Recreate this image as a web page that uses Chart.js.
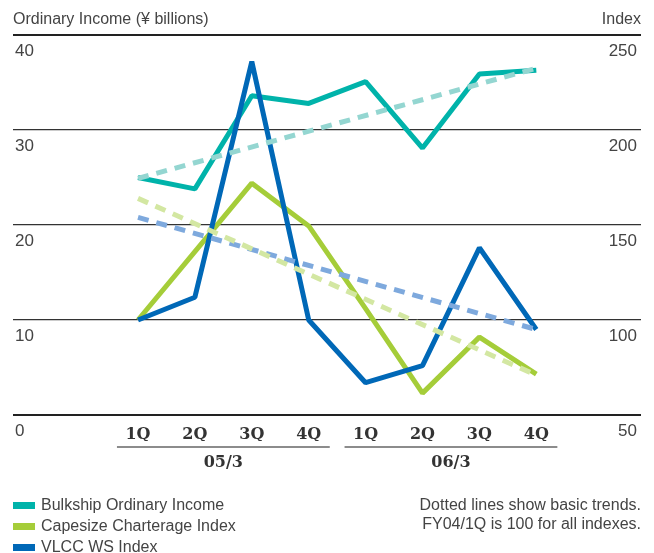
<!DOCTYPE html>
<html>
<head>
<meta charset="utf-8">
<script src="https://cdn.jsdelivr.net/npm/chart.js@4/dist/chart.umd.min.js"></script>
<style>
  html, body { margin: 0; padding: 0; background: #fff; }
  #wrap { position: relative; width: 654px; height: 553px; overflow: hidden;
    font-family: "Liberation Sans", Arial, sans-serif; color: #444; }
  #chart { position: absolute; left: 0; top: 0; }
  .axis-title { position: absolute; top: 8px; font-size: 16px; line-height: 22px; }
  .legend { position: absolute; left: 13px; top: 494px; font-size: 16px; }
  .legend div { height: 21px; line-height: 21px; white-space: nowrap; }
  .legend span { display: inline-block; width: 22px; height: 7px; margin-right: 6px; vertical-align: 1px; }
  .note { position: absolute; right: 13px; top: 495px; font-size: 16px; line-height: 19px; text-align: right; }
</style>
</head>
<body>
<div id="wrap">
  <canvas id="chart" width="654" height="553"></canvas>
  <div class="axis-title" style="left:13px">Ordinary Income (¥ billions)</div>
  <div class="axis-title" style="right:13px">Index</div>
  <div class="legend">
    <div><span style="background:#00b3aa"></span>Bulkship Ordinary Income</div>
    <div><span style="background:#a5cd39"></span>Capesize Charterage Index</div>
    <div><span style="background:#0068b7"></span>VLCC WS Index</div>
  </div>
  <div class="note">Dotted lines show basic trends.<br>FY04/1Q is 100 for all indexes.</div>
</div>
<script>
const quarterLabels = ['1Q', '2Q', '3Q', '4Q', '1Q', '2Q', '3Q', '4Q'];
const fiscalYears = ['05/3', '06/3'];

// ordinary income, ¥ billions (left axis)
const bulkshipIncome = [25, 23.8, 33.6, 32.8, 35.1, 28.1, 35.9, 36.3];
// indexes, FY04/1Q = 100 (right axis)
const capesizeIndex = [100, 136, 172, 149.5, 106, 61.5, 91, 71.5];
const vlccIndex = [100, 112, 236, 100, 67, 76, 138, 95];

// basic trend lines: value at first and last quarter
const bulkshipTrend = [24.9, 36.5];
const capesizeTrend = [164, 71];
const vlccTrend = [154, 95];

const toPoints = arr => arr.map((v, i) => ({ x: i, y: v }));
const trendPoints = arr => [{ x: 0, y: arr[0] }, { x: quarterLabels.length - 1, y: arr[1] }];

const solid = (label, data, color, axis, order) => ({
  label, data, borderColor: color, backgroundColor: color, yAxisID: axis, order,
  borderWidth: 5, pointRadius: 0, tension: 0, borderJoinStyle: 'bevel', borderCapStyle: 'butt',
});
const dashed = (label, data, color, axis) => ({
  label, data, borderColor: color, yAxisID: axis, order: 0,
  borderWidth: 5, borderDash: [11, 8], pointRadius: 0, borderCapStyle: 'butt',
});

// labels sit inside the plot, so the value axes take no room
const zeroWidth = scale => { scale.width = 0; };

// bracket lines and year labels under the quarters
const yearGroups = {
  id: 'yearGroups',
  afterDraw(chart) {
    const { ctx, chartArea, scales } = chart;
    const x = scales.x;
    ctx.save();
    fiscalYears.forEach((label, g) => {
      const first = g * 4, last = g * 4 + 3;
      const left = x.getPixelForValue(first - 0.37);
      const right = x.getPixelForValue(last + 0.37);
      const y = chartArea.bottom + 32;
      ctx.strokeStyle = '#666';
      ctx.lineWidth = 1.5;
      ctx.beginPath();
      ctx.moveTo(left, y);
      ctx.lineTo(right, y);
      ctx.stroke();
      ctx.fillStyle = '#333';
      ctx.font = 'bold 16px "DejaVu Serif", serif';
      ctx.textAlign = 'center';
      ctx.textBaseline = 'middle';
      ctx.fillText(label, (left + right) / 2, chartArea.bottom + 48);
    });
    ctx.restore();
  }
};

new Chart(document.getElementById('chart'), {
  type: 'line',
  data: {
    datasets: [
      dashed('Bulkship trend', trendPoints(bulkshipTrend), '#94d6d1', 'y'),
      dashed('Capesize trend', trendPoints(capesizeTrend), '#d3e7a2', 'y2'),
      dashed('VLCC trend', trendPoints(vlccTrend), '#7ea9dd', 'y2'),
      solid('VLCC WS Index', toPoints(vlccIndex), '#0068b7', 'y2', 1),
      solid('Capesize Charterage Index', toPoints(capesizeIndex), '#a5cd39', 'y2', 2),
      solid('Bulkship Ordinary Income', toPoints(bulkshipIncome), '#00b3aa', 'y', 3),
    ],
  },
  options: {
    responsive: false,
    animation: false,
    layout: { padding: { left: 13, right: 13, top: 35, bottom: 112 } },
    plugins: { legend: { display: false }, tooltip: { enabled: false } },
    scales: {
      x: {
        type: 'linear',
        min: -2.197,
        max: 8.84,
        afterBuildTicks: scale => { scale.ticks = quarterLabels.map((_, i) => ({ value: i })); },
        afterFit: scale => { scale.height = 26; },
        ticks: {
          autoSkip: false, maxRotation: 0, padding: 2,
          color: '#333',
          font: { family: '"DejaVu Serif", serif', size: 16, weight: 'bold' },
          callback: v => quarterLabels[v],
        },
        grid: { display: false },
        border: { display: false },
      },
      y: {
        position: 'left',
        min: 0, max: 40,
        afterFit: zeroWidth,
        ticks: {
          stepSize: 10, mirror: true, padding: 2, labelOffset: 16,
          color: '#444', font: { family: '"Liberation Sans", Arial', size: 17 },
        },
        grid: {
          drawTicks: false,
          color: c => (c.tick.value === 0 || c.tick.value === 40) ? '#222' : '#333',
          lineWidth: c => (c.tick.value === 0 || c.tick.value === 40) ? 2 : 1.2,
        },
        border: { display: false },
      },
      y2: {
        position: 'right',
        min: 50, max: 250,
        afterFit: zeroWidth,
        ticks: {
          stepSize: 50, mirror: true, padding: -4, labelOffset: 16,
          color: '#444', font: { family: '"Liberation Sans", Arial', size: 17 },
        },
        grid: { display: false, drawTicks: false },
        border: { display: false },
      },
    },
  },
  plugins: [yearGroups],
});
</script>
</body>
</html>
